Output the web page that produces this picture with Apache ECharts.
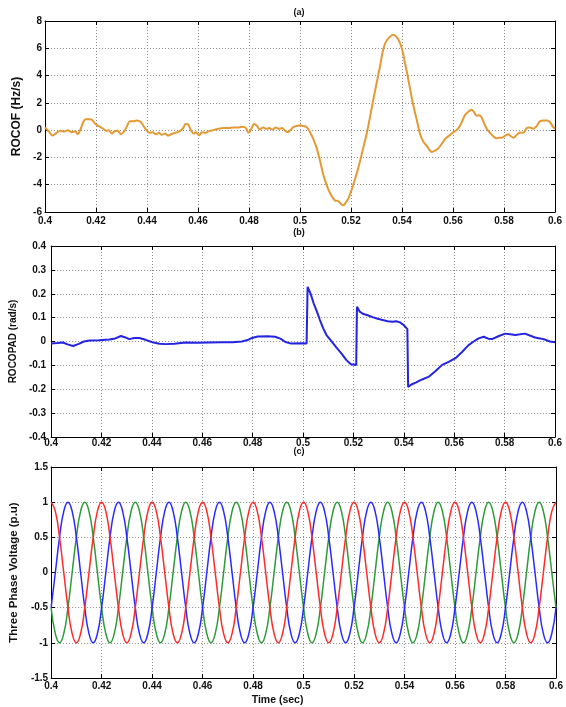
<!DOCTYPE html>
<html>
<head>
<meta charset="utf-8">
<script src="https://cdn.jsdelivr.net/npm/echarts@6/dist/echarts.min.js"></script>
<style>
html,body{margin:0;padding:0;background:#fff;}
#chart{width:566px;height:707px;}
</style>
</head>
<body>
<div id="chart"></div>
<script>
// ---------- Panel (a): ROCOF ----------
const rocofTime = [
0.4000,0.4015,0.4030,0.4045,0.4060,0.4075,0.4090,0.4105,0.4120,0.4128,
0.4140,0.4150,0.4160,0.4175,0.4185,0.4195,0.4205,0.4215,0.4228,0.4240,
0.4250,0.4262,0.4272,0.4285,0.4298,0.4310,0.4322,0.4332,0.4345,0.4360,
0.4375,0.4388,0.4398,0.4410,0.4422,0.4435,0.4447,0.4458,0.4470,0.4482,
0.4495,0.4510,0.4525,0.4540,0.4552,0.4562,0.4572,0.4582,0.4592,0.4604,
0.4615,0.4630,0.4645,0.4660,0.4680,0.4700,0.4720,0.4740,0.4760,0.4775,
0.4788,0.4798,0.4808,0.4820,0.4832,0.4842,0.4855,0.4868,0.4880,0.4892,
0.4905,0.4918,0.4930,0.4942,0.4952,0.4962,0.4975,0.4988,0.5000,0.5012,
0.5025,0.5038,0.5051,0.5065,0.5078,0.5092,0.5106,0.5120,0.5137,0.5150,
0.5163,0.5170,0.5180,0.5190,0.5200,0.5209,0.5222,0.5235,0.5248,0.5261,
0.5274,0.5287,0.5300,0.5314,0.5325,0.5335,0.5350,0.5366,0.5380,0.5392,
0.5402,0.5412,0.5422,0.5431,0.5441,0.5451,0.5461,0.5471,0.5484,0.5497,
0.5508,0.5516,0.5530,0.5542,0.5556,0.5569,0.5585,0.5601,0.5614,0.5627,
0.5637,0.5647,0.5660,0.5673,0.5683,0.5693,0.5703,0.5712,0.5722,0.5732,
0.5745,0.5758,0.5770,0.5780,0.5791,0.5805,0.5817,0.5827,0.5837,0.5850,
0.5863,0.5876,0.5889,0.5902,0.5915,0.5928,0.5941,0.5955,0.5968,0.5980,
0.5990,0.6000];
const rocofValue = [
0.2,-0.1,-0.4,-0.2,-0.05,-0.1,0.0,-0.15,-0.1,-0.3,
0.1,0.6,0.8,0.8,0.75,0.5,0.35,0.25,0.1,-0.05,
0.0,-0.25,-0.1,-0.05,-0.3,-0.1,0.3,0.65,0.65,0.7,
0.6,0.25,0.0,-0.2,-0.15,-0.3,-0.2,-0.35,-0.25,-0.4,
-0.3,-0.2,-0.1,0.1,0.45,0.4,0.0,-0.25,-0.15,-0.4,
-0.15,-0.2,-0.05,0.0,0.1,0.15,0.15,0.2,0.2,0.25,
0.15,-0.2,0.05,0.45,0.3,0.05,0.2,0.1,0.15,0.05,
0.2,0.1,0.15,-0.05,-0.15,0.0,0.25,0.3,0.35,0.3,
0.25,-0.1,-0.6,-1.3,-2.2,-3.3,-4.1,-4.7,-5.15,-5.2,
-5.45,-5.5,-5.3,-5.0,-4.5,-4.0,-3.2,-2.3,-1.3,-0.3,
0.9,2.2,3.4,4.7,5.8,6.4,6.8,7.0,6.8,6.4,
5.8,4.9,4.0,3.1,2.1,1.3,0.5,-0.3,-0.85,-1.15,
-1.45,-1.6,-1.5,-1.35,-1.0,-0.65,-0.4,-0.15,0.0,0.3,
0.7,1.1,1.35,1.5,1.3,1.05,1.1,0.95,0.5,0.1,
-0.2,-0.45,-0.6,-0.55,-0.55,-0.4,-0.3,-0.45,-0.55,-0.35,
-0.17,-0.2,0.15,0.2,0.1,0.3,0.65,0.7,0.7,0.6,
0.3,0.1];

// ---------- Panel (b): ROCOPAD ----------
const rocopadTime = [
0.4000,0.4025,0.4047,0.4065,0.4087,0.4110,0.4130,0.4153,0.4190,0.4231,
0.4255,0.4277,0.4295,0.4310,0.4330,0.4350,0.4375,0.4402,0.4430,0.4455,
0.4490,0.4533,0.4580,0.4626,0.4680,0.4720,0.4757,0.4780,0.4797,0.4820,
0.4860,0.4889,0.4910,0.4930,0.4950,0.4994,0.5014,0.5018,0.5030,0.5042,
0.5055,0.5067,0.5080,0.5093,0.5110,0.5132,0.5152,0.5172,0.5190,0.5211,
0.5214,0.5225,0.5237,0.5256,0.5276,0.5296,0.5316,0.5336,0.5355,0.5370,
0.5385,0.5400,0.5414,0.5417,0.5430,0.5447,0.5470,0.5500,0.5525,0.5552,
0.5578,0.5605,0.5630,0.5657,0.5677,0.5697,0.5717,0.5735,0.5750,0.5775,
0.5802,0.5822,0.5842,0.5862,0.5881,0.5900,0.5921,0.5940,0.5960,0.5980,
0.6000];
const rocopadValue = [
-0.008,-0.006,-0.004,-0.012,-0.019,-0.01,0.0,0.004,0.005,0.008,
0.013,0.023,0.017,0.01,0.015,0.015,0.007,-0.003,-0.009,-0.011,
-0.009,-0.004,-0.005,-0.004,-0.003,-0.003,0.0,0.006,0.015,0.021,
0.022,0.02,0.012,-0.002,-0.008,-0.007,-0.008,0.229,0.2,0.16,
0.125,0.09,0.055,0.027,0.005,-0.025,-0.05,-0.078,-0.095,-0.098,
0.146,0.125,0.116,0.11,0.102,0.095,0.09,0.085,0.083,0.085,
0.08,0.068,0.052,-0.19,-0.18,-0.172,-0.16,-0.147,-0.125,-0.098,
-0.085,-0.07,-0.045,-0.015,0.0,0.013,0.02,0.012,0.01,0.022,
0.033,0.03,0.027,0.03,0.033,0.025,0.017,0.013,0.008,0.0,
-0.003];

// ---------- Panel (c): three phase voltage ----------
const voltTime = [
0.40000,0.40167,0.40333,0.40500,0.40667,0.40833,0.41000,0.41167,0.41333,0.41500,0.41667,0.41833,
0.42000,0.42167,0.42333,0.42500,0.42667,0.42833,0.43000,0.43167,0.43333,0.43500,0.43667,0.43833,
0.44000,0.44167,0.44333,0.44500,0.44667,0.44833,0.45000,0.45167,0.45333,0.45500,0.45667,0.45833,
0.46000,0.46167,0.46333,0.46500,0.46667,0.46833,0.47000,0.47167,0.47333,0.47500,0.47667,0.47833,
0.48000,0.48167,0.48333,0.48500,0.48667,0.48833,0.49000,0.49167,0.49333,0.49500,0.49667,0.49833,
0.50000,0.50167,0.50333,0.50500,0.50667,0.50833,0.51000,0.51167,0.51333,0.51500,0.51667,0.51833,
0.52000,0.52167,0.52333,0.52500,0.52667,0.52833,0.53000,0.53167,0.53333,0.53500,0.53667,0.53833,
0.54000,0.54167,0.54333,0.54500,0.54667,0.54833,0.55000,0.55167,0.55333,0.55500,0.55667,0.55833,
0.56000,0.56167,0.56333,0.56500,0.56667,0.56833,0.57000,0.57167,0.57333,0.57500,0.57667,0.57833,
0.58000,0.58167,0.58333,0.58500,0.58667,0.58833,0.59000,0.59167,0.59333,0.59500,0.59667,0.59833,
0.60000];
const phaseRed = [
1,0.87,0.5,0,-0.5,-0.87,-1,-0.87,-0.5,0,0.5,0.87,
1,0.87,0.5,0,-0.5,-0.87,-1,-0.87,-0.5,0,0.5,0.87,
1,0.87,0.5,0,-0.5,-0.87,-1,-0.87,-0.5,0,0.5,0.87,
1,0.87,0.5,0,-0.5,-0.87,-1,-0.87,-0.5,0,0.5,0.87,
1,0.87,0.5,0,-0.5,-0.87,-1,-0.87,-0.5,0,0.5,0.87,
1,0.87,0.5,0,-0.5,-0.87,-1,-0.87,-0.5,0,0.5,0.87,
1,0.87,0.5,0,-0.5,-0.87,-1,-0.87,-0.5,0,0.5,0.87,
1,0.87,0.5,0,-0.5,-0.87,-1,-0.87,-0.5,0,0.5,0.87,
1,0.87,0.5,0,-0.5,-0.87,-1,-0.87,-0.5,0,0.5,0.87,
1,0.87,0.5,0,-0.5,-0.87,-1,-0.87,-0.5,0,0.5,0.87,
1];
const phaseBlue = [
-0.5,0,0.5,0.87,1,0.87,0.5,0,-0.5,-0.87,-1,-0.87,
-0.5,0,0.5,0.87,1,0.87,0.5,0,-0.5,-0.87,-1,-0.87,
-0.5,0,0.5,0.87,1,0.87,0.5,0,-0.5,-0.87,-1,-0.87,
-0.5,0,0.5,0.87,1,0.87,0.5,0,-0.5,-0.87,-1,-0.87,
-0.5,0,0.5,0.87,1,0.87,0.5,0,-0.5,-0.87,-1,-0.87,
-0.5,0,0.5,0.87,1,0.87,0.5,0,-0.5,-0.87,-1,-0.87,
-0.5,0,0.5,0.87,1,0.87,0.5,0,-0.5,-0.87,-1,-0.87,
-0.5,0,0.5,0.87,1,0.87,0.5,0,-0.5,-0.87,-1,-0.87,
-0.5,0,0.5,0.87,1,0.87,0.5,0,-0.5,-0.87,-1,-0.87,
-0.5,0,0.5,0.87,1,0.87,0.5,0,-0.5,-0.87,-1,-0.87,
-0.5];
const phaseGreen = [
-0.5,-0.87,-1,-0.87,-0.5,0,0.5,0.87,1,0.87,0.5,0,
-0.5,-0.87,-1,-0.87,-0.5,0,0.5,0.87,1,0.87,0.5,0,
-0.5,-0.87,-1,-0.87,-0.5,0,0.5,0.87,1,0.87,0.5,0,
-0.5,-0.87,-1,-0.87,-0.5,0,0.5,0.87,1,0.87,0.5,0,
-0.5,-0.87,-1,-0.87,-0.5,0,0.5,0.87,1,0.87,0.5,0,
-0.5,-0.87,-1,-0.87,-0.5,0,0.5,0.87,1,0.87,0.5,0,
-0.5,-0.87,-1,-0.87,-0.5,0,0.5,0.87,1,0.87,0.5,0,
-0.5,-0.87,-1,-0.87,-0.5,0,0.5,0.87,1,0.87,0.5,0,
-0.5,-0.87,-1,-0.87,-0.5,0,0.5,0.87,1,0.87,0.5,0,
-0.5,-0.87,-1,-0.87,-0.5,0,0.5,0.87,1,0.87,0.5,0,
-0.5];

// axis ranges
const timeRange = {min: 0.4, max: 0.6, interval: 0.02};
const rocofRange = {min: -6, max: 8, interval: 2};
const rocopadRange = {min: -0.4, max: 0.4, interval: 0.1};
const voltRange = {min: -1.5, max: 1.5, interval: 0.5};
const panelTitles = ['(a)', '(b)', '(c)'];
const yNames = ['ROCOF (Hz/s)', 'ROCOPAD (rad/s)', 'Three Phase Voltage (p.u)'];
const xName = 'Time (sec)';

function pairs(xs, ys) { return xs.map((x, i) => [x, ys[i]]); }

const FONT = "'Liberation Sans', Arial, sans-serif";
const grids = [
  {left: 45, top: 21, width: 510, height: 191},
  {left: 48, top: 246, width: 507, height: 191},
  {left: 48, top: 467, width: 508, height: 211}
];
const yRanges = [rocofRange, rocopadRange, voltRange];
const xLabelMargin = [4, 1, 3];
const yLabelMargin = [3, 5, 3];
const yNameGap = [10, 23, 24];
const yNameSize = [12, 10, 11.5];

const lineAxis = {show: true, onZero: false, lineStyle: {color: '#000', width: 1}};
const tickStyle = {show: true, inside: true, length: 4, lineStyle: {color: '#000', width: 1}};
const labelStyle = {fontFamily: FONT, fontWeight: 'bold', fontSize: 10, color: '#111'};
const split = {show: true, lineStyle: {type: [1, 2], color: '#8a8a8a', width: 1}};

const xAxes = [], yAxes = [];
grids.forEach((g, i) => {
  const xb = Object.assign({}, timeRange, {
    type: 'value', gridIndex: i, position: 'bottom',
    axisLine: lineAxis, axisTick: tickStyle,
    axisLabel: Object.assign({margin: xLabelMargin[i]}, labelStyle),
    splitLine: split
  });
  if (i === 2) {
    xb.name = xName;
    xb.nameLocation = 'middle';
    xb.nameGap = 17;
    xb.nameTextStyle = {fontFamily: FONT, fontWeight: 'bold', fontSize: 10.5, color: '#111', padding: [0, 52, 0, 0]};
  }
  xAxes.push(xb);
  xAxes.push(Object.assign({}, timeRange, {
    type: 'value', gridIndex: i, position: 'top',
    axisLine: lineAxis, axisTick: tickStyle, axisLabel: {show: false}, splitLine: {show: false}
  }));
  yAxes.push(Object.assign({}, yRanges[i], {
    type: 'value', gridIndex: i, position: 'left',
    name: yNames[i], nameLocation: 'middle', nameGap: yNameGap[i],
    nameTextStyle: {fontFamily: FONT, fontWeight: 'bold', fontSize: yNameSize[i], color: '#111'},
    axisLine: lineAxis, axisTick: tickStyle,
    axisLabel: Object.assign({margin: yLabelMargin[i]}, labelStyle),
    splitLine: split
  }));
  yAxes.push(Object.assign({}, yRanges[i], {
    type: 'value', gridIndex: i, position: 'right',
    axisLine: lineAxis, axisTick: tickStyle, axisLabel: {show: false}, splitLine: {show: false}
  }));
});

const titleTops = [8.5, 228, 447];
const option = {
  backgroundColor: '#fff',
  animation: false,
  title: panelTitles.map((t, i) => ({
    text: t, left: 299, top: titleTops[i], textAlign: 'center', padding: 0,
    textStyle: {fontFamily: FONT, fontWeight: 'bold', fontSize: 9, color: '#111'}
  })),
  grid: grids,
  xAxis: xAxes,
  yAxis: yAxes,
  series: [
    {type: 'line', xAxisIndex: 0, yAxisIndex: 0, data: pairs(rocofTime, rocofValue),
     showSymbol: false, smooth: 0.3, lineStyle: {color: '#E39A35', width: 2}},
    {type: 'line', xAxisIndex: 2, yAxisIndex: 2, data: pairs(rocopadTime, rocopadValue),
     showSymbol: false, smooth: false, lineStyle: {color: '#2424E0', width: 2}},
    {type: 'line', xAxisIndex: 4, yAxisIndex: 4, data: pairs(voltTime, phaseGreen),
     showSymbol: false, smooth: true, lineStyle: {color: '#2E9A3A', width: 1.5}},
    {type: 'line', xAxisIndex: 4, yAxisIndex: 4, data: pairs(voltTime, phaseBlue),
     showSymbol: false, smooth: true, lineStyle: {color: '#2A2AFF', width: 1.5}},
    {type: 'line', xAxisIndex: 4, yAxisIndex: 4, data: pairs(voltTime, phaseRed),
     showSymbol: false, smooth: true, lineStyle: {color: '#FF2A2A', width: 1.5}}
  ]
};
const chart = echarts.init(document.getElementById('chart'), null, {renderer: 'canvas'});
chart.setOption(option);
</script>
</body>
</html>
